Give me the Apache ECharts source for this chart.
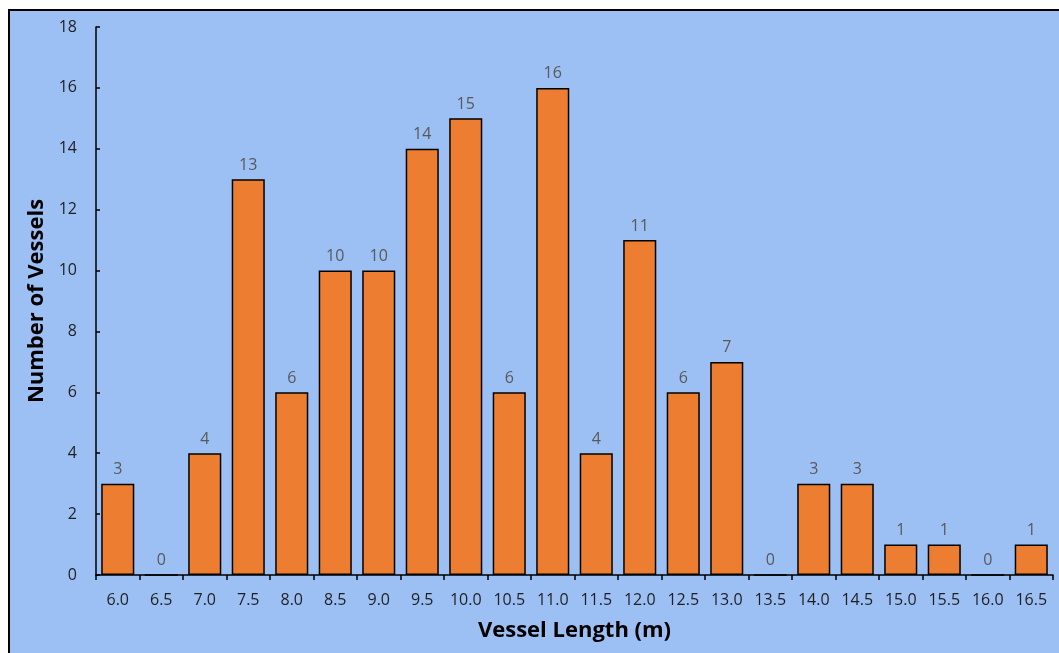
<!DOCTYPE html>
<html>
<head>
<meta charset="utf-8">
<script src="https://cdn.jsdelivr.net/npm/echarts@6/dist/echarts.min.js"></script>
<style>
  html, body { margin: 0; padding: 0; background: #ffffff; width: 1059px; height: 653px; overflow: hidden; }
  #frame { position: absolute; left: 8px; top: 9px; width: 1051px; height: 644px; box-sizing: border-box;
           border-left: 2px solid #000; border-top: 2px solid #000; background: #9CBFF4; }
  #chart { position: absolute; left: 0; top: 0; width: 1059px; height: 653px; }
</style>
</head>
<body>
<div id="frame"></div>
<div id="chart"></div>
<script>
const categories = ['6.0','6.5','7.0','7.5','8.0','8.5','9.0','9.5','10.0','10.5','11.0','11.5','12.0','12.5','13.0','13.5','14.0','14.5','15.0','15.5','16.0','16.5'];
const vesselCounts = [3,0,4,13,6,10,10,14,15,6,16,4,11,6,7,0,3,3,1,1,0,1];
const yTicks = { min: 0, max: 18, interval: 2 };

const chart = echarts.init(document.getElementById('chart'), null, { renderer: 'canvas' });
const font = "'Open Sans', 'Liberation Sans', sans-serif";
chart.setOption({
  backgroundColor: 'transparent',
  animation: false,
  grid: { left: 96, right: 6, top: 27, bottom: 78, containLabel: false },
  xAxis: {
    type: 'category',
    data: categories,
    name: 'Vessel Length (m)',
    nameLocation: 'middle',
    nameGap: 45,
    nameTextStyle: { fontFamily: font, fontWeight: 'bold', fontSize: 22, color: '#000' },
    axisLine: { show: true, lineStyle: { color: '#000', width: 1.5 } },
    axisTick: { show: true, alignWithLabel: false, length: 5, lineStyle: { color: '#000', width: 1.5 } },
    axisLabel: { fontFamily: font, fontSize: 16, color: '#1F1F1F', margin: 17, interval: 0 },
    splitLine: { show: false }
  },
  yAxis: {
    type: 'value',
    min: yTicks.min, max: yTicks.max, interval: yTicks.interval,
    name: 'Number of Vessels',
    nameLocation: 'middle',
    nameGap: 42,
    nameRotate: 90,
    nameTextStyle: { fontFamily: font, fontWeight: 'bold', fontSize: 22, color: '#000' },
    axisLine: { show: true, lineStyle: { color: '#000', width: 1.5 } },
    axisTick: { show: true, inside: true, length: 4, lineStyle: { color: '#000', width: 1.5 } },
    axisLabel: { fontFamily: font, fontSize: 16, color: '#1F1F1F', margin: 19 },
    splitLine: { show: false }
  },
  series: [{
    type: 'bar',
    data: vesselCounts,
    barCategoryGap: '24%',
    itemStyle: { color: '#ED7D31', borderColor: '#000', borderWidth: 1.5 },
    label: { show: true, position: 'top', distance: 6, fontFamily: font, fontSize: 16, color: '#595959' }
  }]
});
</script>
</body>
</html>
